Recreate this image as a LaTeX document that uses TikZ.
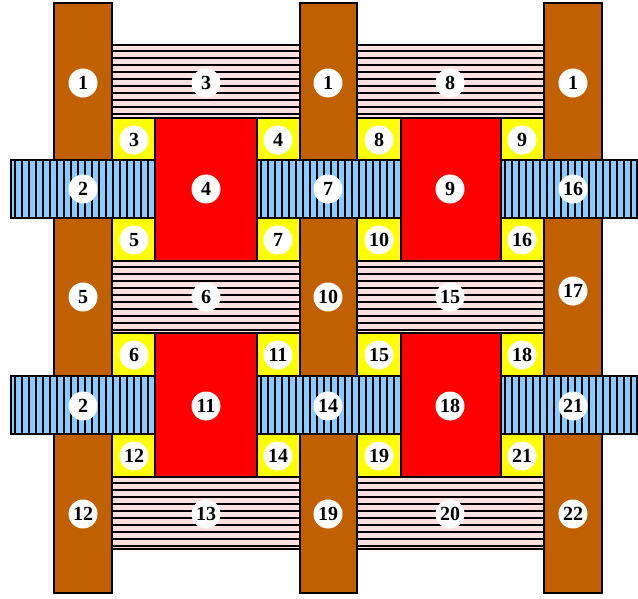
\documentclass[tikz,border=0pt]{standalone}
\usepackage{fontspec}
\setmainfont{Liberation Serif}
\definecolor{brownc}{RGB}{192,96,0}
\definecolor{pinkc}{RGB}{255,224,224}
\definecolor{bluec}{RGB}{136,204,255}
\definecolor{yellowc}{RGB}{255,255,0}
\definecolor{redc}{RGB}{255,0,0}
\tikzset{
  edge/.style={draw=black,line width=2pt},
  hatch/.style={draw=black,line width=1.2pt},
  lab/.style={circle,fill=white,minimum size=29pt,inner sep=0pt,font=\fontsize{20}{20}\selectfont\bfseries},
}
\begin{document}
\begin{tikzpicture}[x=1pt,y=-1pt]
\useasboundingbox (0,0) rectangle (638,599);
% pink hatched bands
\foreach \xa/\xb in {112/300,357/544}{
  \foreach \ya/\yb in {45/118,261/333,477/549}{
    \fill[pinkc] (\xa,\ya) rectangle (\xb,\yb);
    \foreach \k in {0,...,9}{
      \draw[hatch] (\xa,\ya+6+7*\k) -- (\xb,\ya+6+7*\k);
    }
    \draw[edge] (\xa,\ya) rectangle (\xb,\yb);
  }
}
% brown columns
\foreach \xa/\xb in {54/112,300/357,544/602}{
  \filldraw[edge,fill=brownc] (\xa,3) rectangle (\xb,593);
}
% blue hatched bars
\foreach \xa/\xb/\n in {11/155/20,257/401/20,501/637/19}{
  \foreach \ya/\yb in {160/218,376/434}{
    \fill[bluec] (\xa,\ya) rectangle (\xb,\yb);
    \foreach \k in {1,...,\n}{
      \draw[hatch] (\xa-3+7*\k,\ya) -- (\xa-3+7*\k,\yb);
    }
    \draw[edge] (\xa,\ya) rectangle (\xb,\yb);
  }
}
% yellow squares
\foreach \xa/\xb in {112/155,257/300,357/401,501/544}{
  \foreach \ya/\yb in {118/160,218/261,333/376,434/477}{
    \filldraw[edge,fill=yellowc] (\xa,\ya) rectangle (\xb,\yb);
  }
}
% red blocks
\foreach \xa/\xb in {155/257,401/501}{
  \foreach \ya/\yb in {118/261,333/477}{
    \filldraw[edge,fill=redc] (\xa,\ya) rectangle (\xb,\yb);
  }
}
% labels
\foreach \x/\y/\t/\nm in {
  83/83/1/a1, 206/83/3/a2, 328/83/1/a3, 450/83/8/a4, 573/83/1/a5,
  134/140/3/b1, 278/140/4/b2, 379/140/8/b3, 522/140/9/b4,
  83/189/2/c1, 206/189/4/c2, 328/189/7/c3, 450/189/9/c4, 573/189/16/c5,
  134/240/5/d1, 278/240/7/d2, 379/240/10/d3, 522/240/16/d4,
  83/297/5/e1, 206/297/6/e2, 328/297/10/e3, 450/297/15/e4, 573/291/17/e5,
  134/355/6/f1, 278/355/11/f2, 379/355/15/f3, 522/355/18/f4,
  83/406/2/g1, 206/406/11/g2, 328/406/14/g3, 450/406/18/g4, 573/406/21/g5,
  134/456/12/h1, 278/456/14/h2, 379/456/19/h3, 522/456/21/h4,
  83/514/12/i1, 206/514/13/i2, 328/514/19/i3, 450/514/20/i4, 573/514/22/i5}{
  \node[lab] (\nm) at (\x,\y) {\t};
}
\end{tikzpicture}
\end{document}
